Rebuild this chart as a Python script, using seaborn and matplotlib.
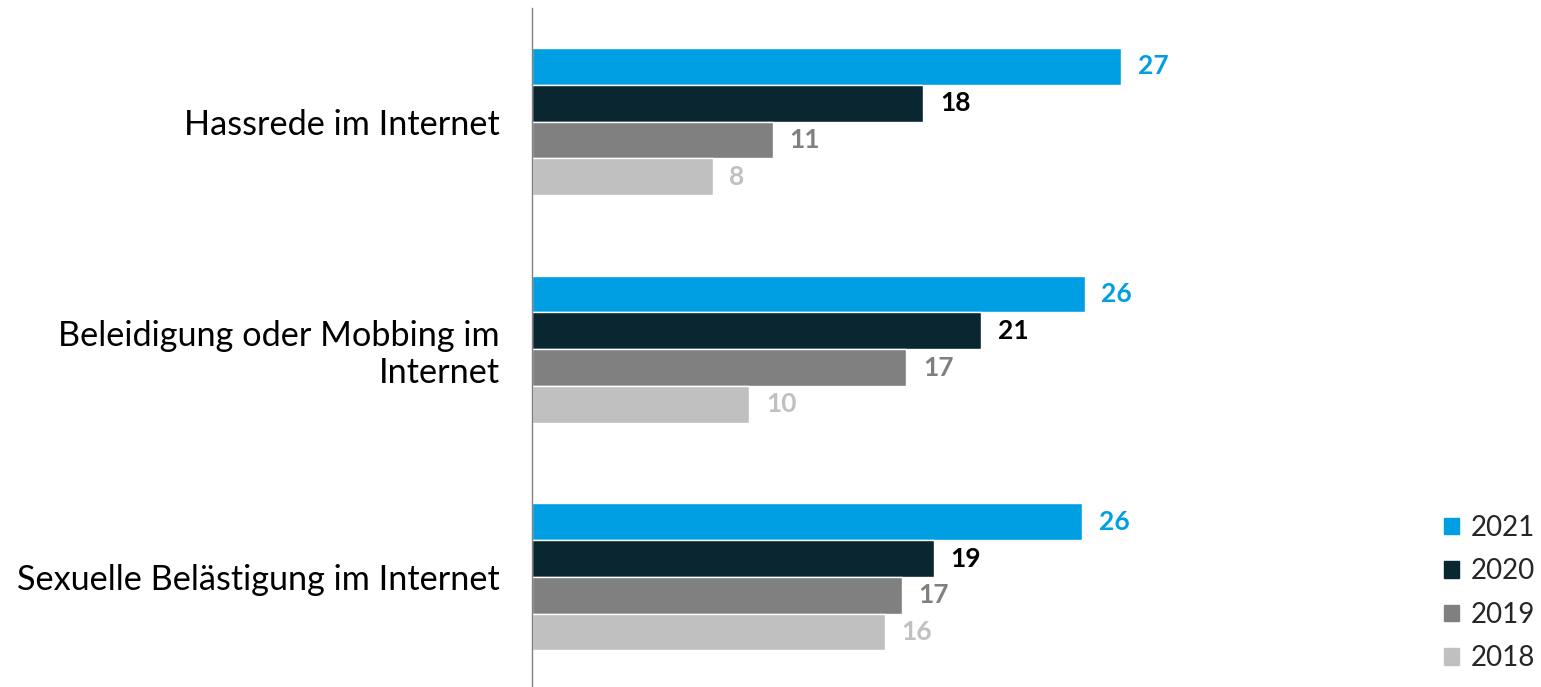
import pandas as pd
import matplotlib.pyplot as plt
import seaborn as sns

# Data (bar lengths; labels show rounded values)
CATEGORIES = ['Hassrede im Internet', 'Beleidigung oder Mobbing im\nInternet',
              'Sexuelle Belästigung im Internet']
YEARS = ['2021', '2020', '2019', '2018']
VALUES_2021 = [27.4, 25.7, 25.6]
VALUES_2020 = [18.2, 20.9, 18.7]
VALUES_2019 = [11.2, 17.4, 17.2]
VALUES_2018 = [8.4, 10.1, 16.4]

BAR_COLORS = ['#009FE3', '#0A2630', '#808080', '#C0C0C0']
LABEL_COLORS = ['#009FE3', '#000000', '#808080', '#C0C0C0']

OUTPUT_FILE = 'out.png'


def build_frame():
    rows = []
    for year, vals in zip(YEARS, [VALUES_2021, VALUES_2020, VALUES_2019, VALUES_2018]):
        for cat, v in zip(CATEGORIES, vals):
            rows.append({'Kategorie': cat, 'Jahr': year, 'Wert': v})
    return pd.DataFrame(rows)


def main():
    df = build_frame()

    sns.set_theme(style='white')
    plt.rcParams['font.family'] = ['Lato', 'DejaVu Sans']

    fig = plt.figure(figsize=(15.41, 6.87), dpi=100)
    ax = fig.add_axes([532 / 1541, 0, 888 / 1541, 679 / 687])

    sns.barplot(data=df, y='Kategorie', x='Wert', hue='Jahr', hue_order=YEARS,
                order=CATEGORIES, palette=BAR_COLORS, orient='h', width=0.646,
                saturation=1, ax=ax, legend=False)

    ax.set_xlim(0, 41.3)
    ax.set_ylim(2.4835, -0.499)

    # Value labels (rounded)
    for container, col in zip(ax.containers, LABEL_COLORS):
        ax.bar_label(container, labels=[f'{w:.0f}' for w in container.datavalues],
                     padding=12, color=col, fontsize=19, fontweight='bold')

    # Axes styling
    for side in ['top', 'right', 'bottom']:
        ax.spines[side].set_visible(False)
    ax.spines['left'].set_color('#808080')
    ax.spines['left'].set_linewidth(1)
    ax.set_xticks([])
    ax.set_xlabel('')
    ax.set_ylabel('')
    ax.tick_params(axis='y', length=0, pad=23, labelsize=24.7, labelcolor='#000000')
    for lbl in ax.get_yticklabels():
        lbl.set_horizontalalignment('right')
        lbl.set_multialignment('right')

    # Legend
    handles = [plt.Rectangle((0, 0), 1, 1, color=c) for c in BAR_COLORS]
    fig.legend(handles, YEARS, loc='upper left', bbox_to_anchor=(1430 / 1541, 1 - 501 / 687),
               frameon=False, fontsize=20, handlelength=0.55, handleheight=0.55,
               handletextpad=0.4, labelspacing=0.63, borderpad=0)

    fig.savefig(OUTPUT_FILE, dpi=100)
    plt.close(fig)


if __name__ == '__main__':
    main()
